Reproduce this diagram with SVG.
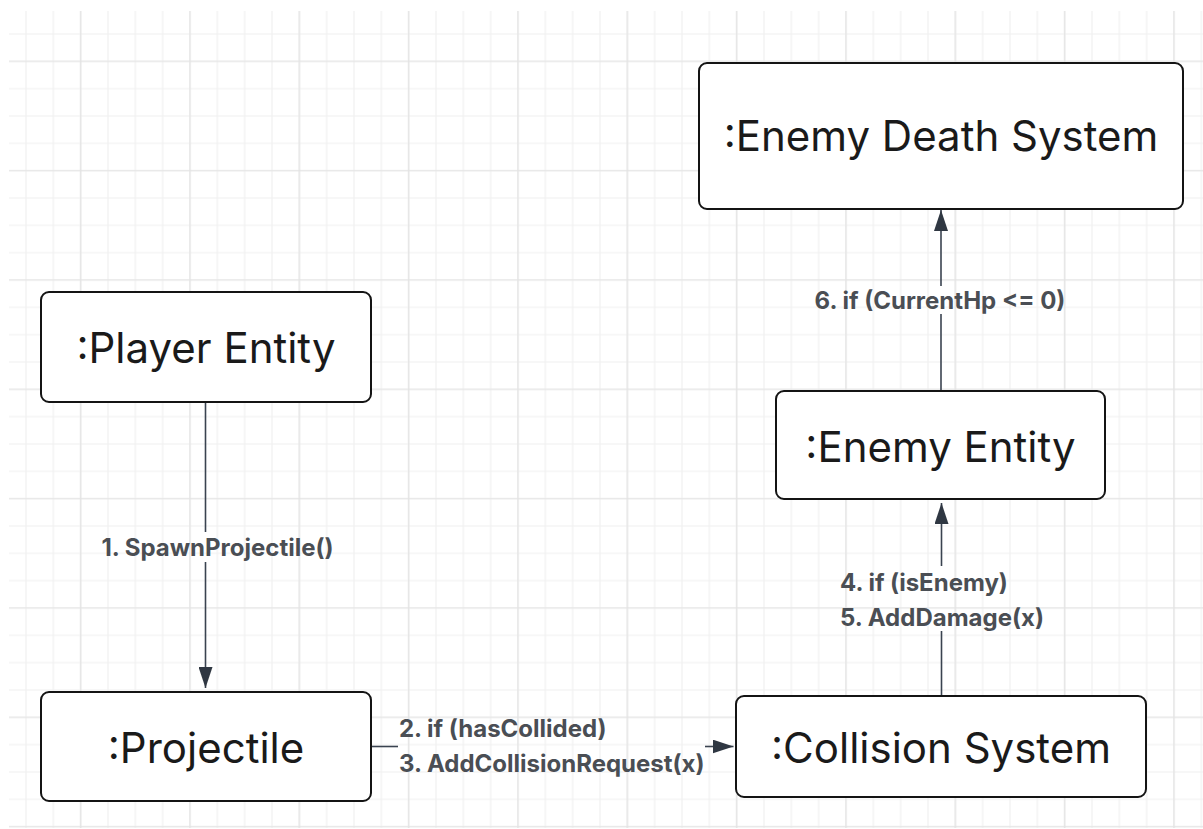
<svg xmlns="http://www.w3.org/2000/svg" width="1203" height="829" viewBox="0 0 1203 829">
  <defs>
    <pattern id="gridMinor" patternUnits="userSpaceOnUse" x="12.33" y="20.33" width="27.333" height="27.333">
      <path d="M13.667 0 V27.333 M0 13.667 H27.333" fill="none" stroke="#f0f0f0" stroke-width="1.2"/>
    </pattern>
    <pattern id="gridMajor" patternUnits="userSpaceOnUse" x="67" y="47.67" width="109.333" height="109.333">
      <path d="M13.667 0 V109.333 M0 13.667 H109.333" fill="none" stroke="#e3e3e3" stroke-width="1.2"/>
    </pattern>
    <marker id="arrow" markerUnits="userSpaceOnUse" markerWidth="22" markerHeight="14" refX="21" refY="7" orient="auto">
      <path d="M0 0 L21 7 L0 14 Z" fill="#2f3742"/>
    </marker>
    <style>
      .node rect { fill: #ffffff; stroke: #141414; stroke-width: 2; }
      .node text { font-family: Inter, "Noto Sans", sans-serif; font-size: 42px; fill: #1a1a1a; text-anchor: middle; }
      .conn path { fill: none; stroke: #3a4350; stroke-width: 1.6; }
      .label { font-family: Inter, "Noto Sans", sans-serif; font-size: 24px; font-weight: 700; fill: #4a4e54; }
    </style>
  </defs>

  <rect x="0" y="0" width="1203" height="829" fill="#ffffff"/>
  <g id="grid">
    <rect x="9" y="11" width="1194" height="817" fill="url(#gridMinor)"/>
    <rect x="9" y="11" width="1194" height="817" fill="url(#gridMajor)"/>
  </g>

  <g id="connectors" class="conn">
    <path d="M205.5 402 V532"/>
    <path d="M205.5 562 V688" marker-end="url(#arrow)"/>
    <path d="M371 746.5 H398"/>
    <path d="M705 746.5 H733.5" marker-end="url(#arrow)"/>
    <path d="M941.5 696 V631"/>
    <path d="M941.5 566 V503" marker-end="url(#arrow)"/>
    <path d="M941 391 V314"/>
    <path d="M941 286 V210" marker-end="url(#arrow)"/>
    <text class="label" x="217.5" y="556" text-anchor="middle">1. SpawnProjectile()</text>
    <text class="label" x="399" y="737">2. if (hasCollided)</text>
    <text class="label" x="399" y="772">3. AddCollisionRequest(x)</text>
    <text class="label" x="840" y="590.5">4. if (isEnemy)</text>
    <text class="label" x="840" y="625.5">5. AddDamage(x)</text>
    <text class="label" x="940" y="309" text-anchor="middle">6. if (CurrentHp &lt;= 0)</text>
  </g>

  <g id="node-enemy-death-system" class="node">
    <rect x="699" y="63" width="484" height="146" rx="8"/>
    <text x="941" y="151">:Enemy Death System</text>
  </g>
  <g id="node-player-entity" class="node">
    <rect x="41" y="292" width="330" height="110" rx="8"/>
    <text x="206" y="363">:Player Entity</text>
  </g>
  <g id="node-enemy-entity" class="node">
    <rect x="776" y="391" width="329" height="108" rx="8"/>
    <text x="940.5" y="461.5">:Enemy Entity</text>
  </g>
  <g id="node-projectile" class="node">
    <rect x="41" y="692" width="330" height="109" rx="8"/>
    <text x="206" y="762.5">:Projectile</text>
  </g>
  <g id="node-collision-system" class="node">
    <rect x="736" y="696" width="410" height="101" rx="8"/>
    <text x="941" y="762.5">:Collision System</text>
  </g>
</svg>
